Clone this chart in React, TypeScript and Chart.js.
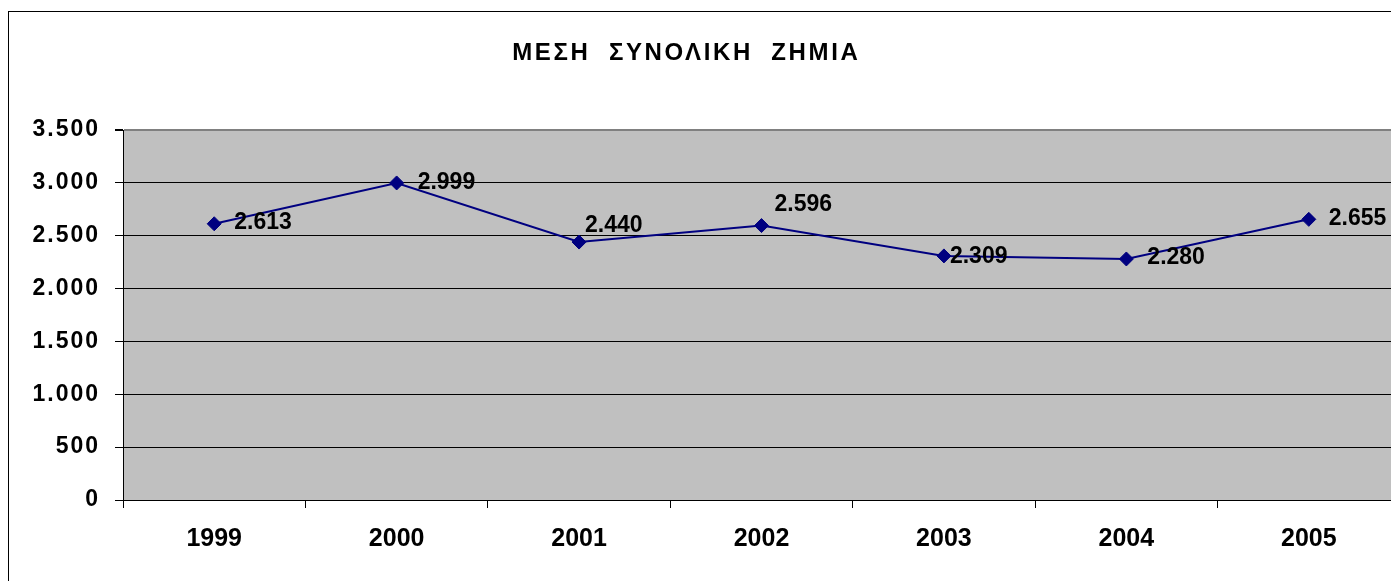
import React, { useEffect, useRef } from 'react';
import { Chart, registerables } from 'chart.js';

Chart.register(...registerables);

const categories = ['1999', '2000', '2001', '2002', '2003', '2004', '2005'];
const values = [2613, 2999, 2440, 2596, 2309, 2280, 2655];
const yTicks = [0, 500, 1000, 1500, 2000, 2500, 3000, 3500];
const titleText = 'ΜΕΣΗ  ΣΥΝΟΛΙΚΗ  ΖΗΜΙΑ';
// label offsets (dx, dy) relative to each point, style only
const labelOffsets: [number, number][] = [
  [20, -1], [21, 0], [6, -16], [13, -21], [6, 1], [21, -1], [20, -1],
];

const FONT = '"Liberation Sans", Arial, sans-serif';
const fmt = (v: number) => String(v).replace(/\B(?=(\d{3})+(?!\d))/g, '.');

const chartPlugin = {
  id: 'excelLook',
  beforeDraw(chart: any) {
    const { ctx, chartArea } = chart;
    ctx.save();
    ctx.fillStyle = '#C0C0C0';
    ctx.fillRect(chartArea.left, chartArea.top, chartArea.right - chartArea.left, chartArea.bottom - chartArea.top);
    ctx.restore();
    ctx.letterSpacing = '2px';
  },
  beforeDatasetsDraw(chart: any) {
    chart.ctx.letterSpacing = '0px';
  },
  afterDatasetsDraw(chart: any) {
    const ctx = chart.ctx;
    const meta = chart.getDatasetMeta(0);
    ctx.save();
    ctx.letterSpacing = '0px';
    ctx.font = `bold 23px ${FONT}`;
    ctx.fillStyle = '#000';
    ctx.textAlign = 'left';
    ctx.textBaseline = 'middle';
    meta.data.forEach((pt: any, i: number) => {
      const [dx, dy] = labelOffsets[i];
      ctx.fillText(fmt(values[i]), pt.x + dx, pt.y + dy);
    });
    ctx.restore();
  },
  afterDraw(chart: any) {
    const ctx = chart.ctx;
    ctx.save();
    ctx.letterSpacing = '2.6px';
    ctx.font = `bold 24px ${FONT}`;
    ctx.fillStyle = '#000';
    ctx.textAlign = 'center';
    ctx.textBaseline = 'alphabetic';
    ctx.fillText(titleText, 677.3, 47.8);
    ctx.restore();
  },
};

export default function App() {
  const canvasRef = useRef<HTMLCanvasElement | null>(null);

  useEffect(() => {
    if (!canvasRef.current) return;
    const chart = new Chart(canvasRef.current, {
      type: 'line',
      data: {
        labels: categories,
        datasets: [
          {
            data: values,
            borderColor: '#000080',
            borderWidth: 2,
            pointStyle: 'rectRot',
            pointRadius: 7,
            pointBackgroundColor: '#000080',
            pointBorderColor: '#000080',
            pointBorderWidth: 1,
            tension: 0,
            fill: false,
          },
        ],
      },
      options: {
        responsive: false,
        animation: false,
        devicePixelRatio: 1,
        layout: { padding: { left: 0, right: 0, top: 118, bottom: 0 } },
        plugins: {
          legend: { display: false },
          title: { display: false },
          tooltip: { enabled: false },
        },
        scales: {
          x: {
            type: 'category',
            offset: true,
            grid: {
              offset: true,
              drawOnChartArea: false,
              drawTicks: true,
              tickLength: 8,
              color: '#000',
              lineWidth: 1,
            },
            border: { display: true, color: '#000', width: 1 },
            ticks: {
              z: 1,
              padding: 16,
              color: '#000',
              font: { family: FONT, size: 25, weight: 'bold' },
              autoSkip: false,
              maxRotation: 0,
              minRotation: 0,
            },
            afterFit(s: any) {
              s.height = 81;
            },
          },
          y: {
            min: 0,
            max: 3500,
            afterBuildTicks(s: any) {
              s.ticks = yTicks.map((v) => ({ value: v }));
            },
            grid: {
              color: (c: any) => (c.tick && c.tick.value === 3500 ? '#808080' : '#000'),
              lineWidth: (c: any) => (c.tick && c.tick.value === 3500 ? 2 : 1),
              tickColor: '#000',
              tickLength: 8,
            },
            border: { display: true, color: '#000', width: 1 },
            ticks: {
              padding: 15,
              color: '#000',
              font: { family: FONT, size: 23, weight: 'bold' },
              callback: (v: any) => fmt(Number(v)),
            },
            afterFit(s: any) {
              s.width = 114;
            },
          },
        },
      } as any,
      plugins: [chartPlugin],
    });
    return () => chart.destroy();
  }, []);

  return (
    <div
      style={{
        position: 'absolute',
        left: 8,
        top: 11,
        width: 1383,
        height: 570,
        boxSizing: 'border-box',
        borderLeft: '1px solid #000',
        borderTop: '1px solid #000',
        overflow: 'hidden',
        background: '#fff',
      }}
    >
      <canvas ref={canvasRef} width={1399} height={569} style={{ display: 'block' }} />
    </div>
  );
}
